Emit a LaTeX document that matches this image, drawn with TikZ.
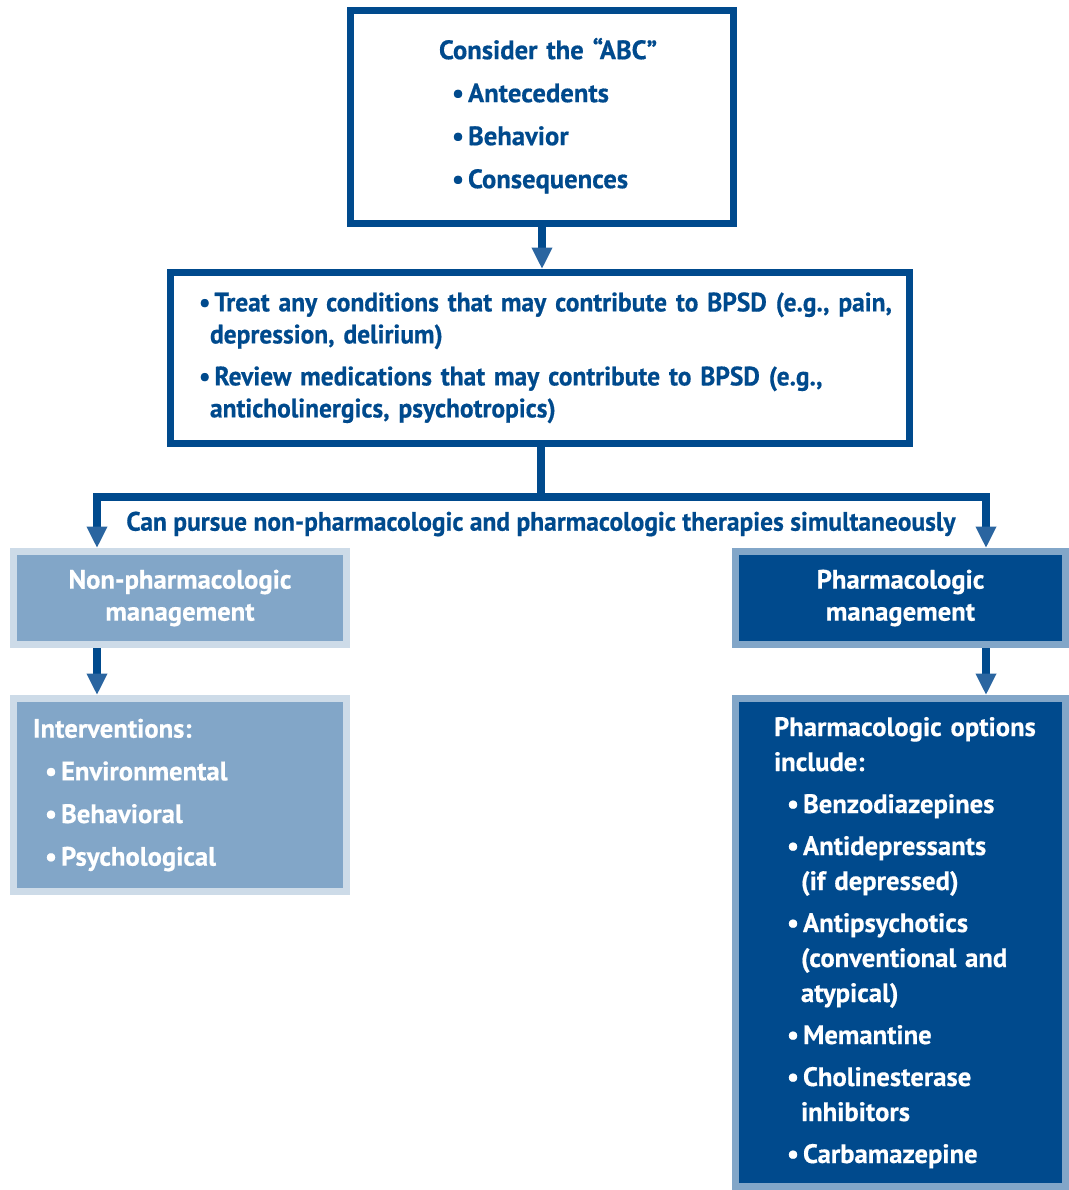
\documentclass[tikz,border=0pt]{standalone}
\usepackage{fontspec}
\setmainfont{PT Sans}[BoldFeatures={FakeBold=0.5}]
\newfontfamily\narrowfont{PT Sans}[FakeStretch=0.955,BoldFeatures={FakeBold=0.5}]
\usetikzlibrary{arrows.meta}

\definecolor{bpsdblue}{RGB}{0,74,141}
\definecolor{bpsdmid}{RGB}{130,166,200}
\definecolor{bpsdlight}{RGB}{205,219,232}
\definecolor{bpsdhead}{RGB}{42,101,160}

\newcommand{\bul}{\textbullet\hspace{3pt}}

\tikzset{
  box/.style={rectangle, line width=5.25pt, inner ysep=0pt,
    font=\bfseries\fontsize{20}{25}\selectfont},
  outline/.style={box, draw=bpsdblue, fill=white, text=bpsdblue},
  lightbox/.style={box, draw=bpsdlight, fill=bpsdmid, text=white},
  darkbox/.style={box, draw=bpsdmid, fill=bpsdblue, text=white},
  flow/.style={draw=bpsdblue, line width=6pt},
  >={Triangle[width=14.5pt,length=16pt,color=bpsdhead]},
}

\begin{document}
\begin{tikzpicture}[x=0.75pt,y=-0.75pt]

    \useasboundingbox (0,0) rectangle (1069,1190);

    \coordinate (split) at (541,497);
    \coordinate (lsplit) at (97,497);
    \coordinate (rsplit) at (986,497);

    \node[outline, minimum width=287.25pt, minimum height=159.75pt,
          inner xsep=66.4pt, text width=154.5pt, align=left] (abc) at (542,117)
      {\begin{tabular}{@{}l@{}}
       Consider the “ABC”\\[7.25pt]
       \hspace*{9.75pt}\bul Antecedents\\[7.25pt]
       \hspace*{9.75pt}\bul Behavior\\[7.25pt]
       \hspace*{9.75pt}\bul Consequences
       \end{tabular}};

    \node[outline, minimum width=554.25pt, minimum height=128.25pt,
          inner xsep=21.4pt, text width=511.5pt, align=left,
          font=\narrowfont\bfseries\fontsize{20}{24}\selectfont] (treat) at (540,358)
      {\begin{tabular}{@{}l@{}}
       \bul Treat any conditions that may contribute to BPSD (e.g., pain,\\
       \hspace*{8.25pt}depression, delirium)\\[7.5pt]
       \bul Review medications that may contribute to BPSD (e.g.,\\
       \hspace*{8.25pt}anticholinergics, psychotropics)
       \end{tabular}};

    \node[lightbox, minimum width=249.75pt, minimum height=69.75pt, align=center,
          font=\bfseries\fontsize{20}{24}\selectfont]
      (nonpharm) at (180,598) {Non-pharmacologic\\management};
    \node[darkbox, minimum width=247.5pt, minimum height=69.75pt, align=center,
          font=\bfseries\fontsize{20}{24}\selectfont]
      (pharm) at (900.5,598) {Pharmacologic\\management};

    \node[lightbox, minimum width=249.75pt, minimum height=144.75pt,
          inner xsep=14.6pt, text width=220.5pt, align=left] (interv) at (180,795)
      {\begin{tabular}{@{}l@{}}
       Interventions:\\[7pt]
       \hspace*{9pt}\bul Environmental\\[7pt]
       \hspace*{9pt}\bul Behavioral\\[7pt]
       \hspace*{9pt}\bul Psychological
       \end{tabular}};

    \node[darkbox, minimum width=247.5pt, minimum height=366pt,
          inner xsep=28.9pt, text width=189.75pt, align=left,
          font=\bfseries\fontsize{20}{26.25}\selectfont] (options) at (900.5,942.5)
      {\begin{tabular}{@{}l@{}}
       Pharmacologic options\\
       include:\\[5.25pt]
       \hspace*{9.75pt}\bul Benzodiazepines\\[5.25pt]
       \hspace*{9.75pt}\bul Antidepressants\\
       \hspace*{20.25pt}(if depressed)\\[5.25pt]
       \hspace*{9.75pt}\bul Antipsychotics\\
       \hspace*{20.25pt}(conventional and\\
       \hspace*{20.25pt}atypical)\\[5.25pt]
       \hspace*{9.75pt}\bul Memantine\\[5.25pt]
       \hspace*{9.75pt}\bul Cholinesterase\\
       \hspace*{20.25pt}inhibitors\\[5.25pt]
       \hspace*{9.75pt}\bul Carbamazepine
       \end{tabular}};

    \node[text=bpsdblue, font=\narrowfont\bfseries\fontsize{20}{25}\selectfont] (both) at (541,524)
      {Can pursue non-pharmacologic and pharmacologic therapies simultaneously};

    % arrows
    \draw[flow, ->] (abc.south) -- (abc.south |- treat.north);
    \draw[flow] (treat.south -| split) -- (split);
    \draw[flow, <->] (lsplit |- nonpharm.north) -- (lsplit) -- (rsplit) -- (rsplit |- pharm.north);
    \draw[flow, ->] (nonpharm.south -| lsplit) -- (interv.north -| lsplit);
    \draw[flow, ->] (pharm.south -| rsplit) -- (options.north -| rsplit);

\end{tikzpicture}
\end{document}
